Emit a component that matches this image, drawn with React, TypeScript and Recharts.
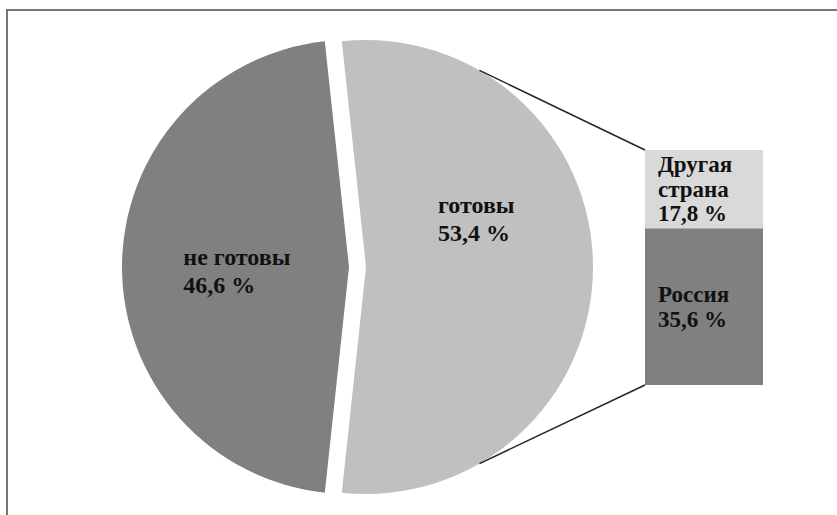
import React from 'react';
import { PieChart, Pie, Cell, Sector, BarChart, Bar, XAxis, YAxis, LabelList } from 'recharts';

// ---- data ----
const pieCategories = ['не готовы', 'готовы'];
const pieValues = [46.6, 53.4];
const barCategories = ['Россия', 'Другая страна'];
const barValues = [35.6, 17.8];

// ---- layout / style ----
const W = 837;
const H = 515;
const PIE = { cx: 357, cy: 267, r: 227 };
const EXPLODE = [8, 9];
const BAR = { x: 645, y: 150, w: 118, h: 235 };
const PIE_COLORS = ['#808080', '#c0c0c0'];
const BAR_COLORS = ['#808080', '#d9d9d9'];
const FONT = "'Liberation Serif', 'Times New Roman', serif";
const TEXT_STYLE: React.CSSProperties = { fontFamily: FONT, fontWeight: 700 };
const CONNECT_ANGLE = 60;

const fmt = (v: number) => v.toFixed(1).replace('.', ',') + '\u00a0%';

const pieData = pieCategories.map((name, i) => ({ name, value: pieValues[i] }));
const barRow: Record<string, any> = { name: 'готовы' };
barCategories.forEach((c, i) => (barRow[c] = barValues[i]));
const barData = [barRow];

const total = pieValues.reduce((a, b) => a + b, 0);
const startAngle = 180 - (pieValues[0] / total) * 180;
const endAngle = startAngle + 360;

const RAD = Math.PI / 180;

const ExplodedSector = (props: any) => {
  const { cx, cy, midAngle, index } = props;
  const off = EXPLODE[index] ?? 0;
  return (
    <Sector
      cx={cx + off * Math.cos(-midAngle * RAD)}
      cy={cy + off * Math.sin(-midAngle * RAD)}
      innerRadius={props.innerRadius}
      outerRadius={props.outerRadius}
      startAngle={props.startAngle}
      endAngle={props.endAngle}
      fill={props.fill}
      stroke="none"
    />
  );
};

// label offsets relative to pie center, in units of radius
const PIE_LABEL_POS = [
  { dx: -0.765, dy: -0.01 },
  { dx: 0.357, dy: -0.24 },
];

const renderPieLabel = (props: any) => {
  const { cx, cy, outerRadius, index, name, value } = props;
  const p = PIE_LABEL_POS[index];
  const x = cx + p.dx * outerRadius;
  const y = cy + p.dy * outerRadius;
  return (
    <text
      key={'pl' + index}
      x={x}
      y={y}
      fill="#111"
      style={TEXT_STYLE}
      fontSize={24}
      textAnchor="start"
    >
      <tspan x={x} y={y}>{name}</tspan>
      <tspan x={x} y={y + 28}>{fmt(value)}</tspan>
    </text>
  );
};

const makeBarLabel = (cat: string) => (props: any) => {
  const { x, y, height, value } = props;
  const lines = [...cat.split(' '), fmt(Number(value))];
  const fs = 23;
  const lh = 24.5;
  const first = y + height / 2 - ((lines.length - 1) * lh) / 2 + fs * 0.34;
  const lx = x + 13;
  return (
    <text fill="#111" style={TEXT_STYLE} fontSize={fs} textAnchor="start">
      {lines.map((l, i) => (
        <tspan key={i} x={lx} y={first + i * lh}>
          {l}
        </tspan>
      ))}
    </text>
  );
};

export default function App() {
  const topAngle = CONNECT_ANGLE * RAD;
  const lightCx = PIE.cx + EXPLODE[1];
  const p1 = { x: lightCx + PIE.r * Math.cos(topAngle), y: PIE.cy - PIE.r * Math.sin(topAngle) };
  const p2 = { x: lightCx + PIE.r * Math.cos(topAngle), y: PIE.cy + PIE.r * Math.sin(topAngle) };
  return (
    <div
      style={{
        position: 'fixed',
        left: 0,
        top: 0,
        width: W,
        height: H,
        background: '#fff',
        overflow: 'hidden',
        fontFamily: FONT,
      }}
    >
      <div
        style={{
          position: 'absolute',
          left: 6,
          top: 9,
          width: 900,
          height: 600,
          borderTop: '2px solid #767676',
          borderLeft: '2px solid #767676',
        }}
      />
      <div style={{ position: 'absolute', left: 0, top: 0 }}>
        <PieChart width={W} height={H} margin={{ top: 0, right: 0, bottom: 0, left: 0 }}>
          <Pie
            data={pieData}
            dataKey="value"
            nameKey="name"
            cx={PIE.cx}
            cy={PIE.cy}
            outerRadius={PIE.r}
            startAngle={startAngle}
            endAngle={endAngle}
            stroke="none"
            shape={ExplodedSector}
            label={renderPieLabel}
            labelLine={false}
            isAnimationActive={false}
          >
            {pieData.map((d, i) => (
              <Cell key={d.name} fill={PIE_COLORS[i]} />
            ))}
          </Pie>
        </PieChart>
      </div>
      <div style={{ position: 'absolute', left: BAR.x, top: BAR.y }}>
        <BarChart
          width={BAR.w}
          height={BAR.h}
          data={barData}
          margin={{ top: 0, right: 0, bottom: 0, left: 0 }}
          barCategoryGap={0}
        >
          <XAxis dataKey="name" hide />
          <YAxis hide domain={[0, 'dataMax']} />
          {barCategories.map((c, i) => (
            <Bar key={c} dataKey={c} stackId="s" fill={BAR_COLORS[i]} isAnimationActive={false}>
              <LabelList dataKey={c} content={makeBarLabel(c)} />
            </Bar>
          ))}
        </BarChart>
      </div>
      <svg
        width={W}
        height={H}
        style={{ position: 'absolute', left: 0, top: 0, pointerEvents: 'none' }}
      >
        <line x1={p1.x} y1={p1.y} x2={BAR.x} y2={BAR.y} stroke="#222" strokeWidth={1.4} />
        <line x1={p2.x} y1={p2.y} x2={BAR.x} y2={BAR.y + BAR.h} stroke="#222" strokeWidth={1.4} />
      </svg>
    </div>
  );
}
